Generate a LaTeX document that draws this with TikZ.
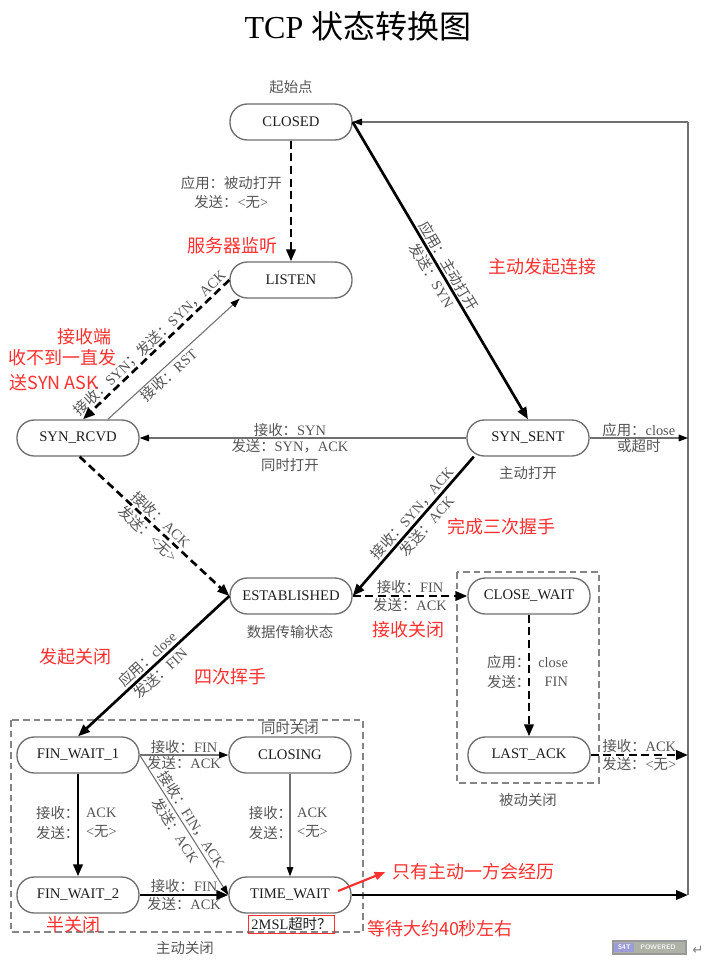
\documentclass[tikz,border=0pt]{standalone}
\usepackage{fontspec}
\setmainfont{Liberation Serif}
\newfontfamily\zhfont{Noto Sans CJK SC}
\newfontfamily\symfont{DejaVu Sans}
\newcommand\zh[1]{{\zhfont #1}}
\usetikzlibrary{arrows.meta,calc}
\definecolor{nodeborder}{HTML}{6E6E6E}
\definecolor{nodetext}{HTML}{1E1E1E}
\definecolor{lbltext}{HTML}{555555}
\definecolor{linegrey}{HTML}{707070}
\definecolor{boxgrey}{HTML}{858585}
\definecolor{notered}{HTML}{FF3030}
\definecolor{lavender}{HTML}{9C9CD8}
\definecolor{badgegrey}{HTML}{AEB2A6}
\begin{document}
\begin{tikzpicture}[x=0.75pt,y=-0.75pt,
  state/.style={draw=nodeborder, line width=1pt, rounded corners=13pt,
    minimum width=91.5pt, minimum height=27pt, inner sep=0pt,
    text=nodetext, font=\fontsize{11}{13}\selectfont},
  lbl/.style={text=lbltext, font=\fontsize{10.8}{14.5}\selectfont,
    inner sep=1pt, align=center},
  note/.style={text=notered, font=\zhfont\fontsize{13.5}{17}\selectfont,
    inner sep=0pt},
  strong/.style={line width=2pt, draw=black, -{Triangle[length=9pt,width=7pt]}},
  strongdash/.style={strong, dash pattern=on 6pt off 3.5pt},
  weak/.style={line width=0.8pt, draw=linegrey,
    -{Triangle[length=7pt,width=5pt,color=black]}},
  plainline/.style={line width=1.1pt, draw=linegrey},
  groupbox/.style={draw=boxgrey, line width=1pt, dash pattern=on 5pt off 3pt},
  redarrow/.style={line width=1.6pt, draw=notered,
    -{Triangle[length=8pt,width=6pt,color=notered]}},
  leftcol/.style={lbl, anchor=east, inner sep=0pt, align=right},
  rightcol/.style={lbl, anchor=west, inner sep=0pt, align=left},
]
\useasboundingbox (0,0) rectangle (715,970);

% title
\node (title) at (358,26) {\fontsize{24}{28}\selectfont TCP \zh{状态转换图}};

% group boxes
\draw[groupbox] (11,720) rectangle (363,932);
\draw[groupbox] (457,572) rectangle (599,783);

% states
\node[state] (CLOSED) at (291,122) {CLOSED};
\node[state] (LISTEN) at (291,280) {LISTEN};
\node[state] (SYNRCVD) at (78,438) {SYN\_RCVD};
\node[state] (SYNSENT) at (528,438) {SYN\_SENT};
\node[state] (EST) at (291,596) {ESTABLISHED};
\node[state] (CLOSEWAIT) at (529,596) {CLOSE\_WAIT};
\node[state] (LASTACK) at (529,755) {LAST\_ACK};
\node[state] (FW1) at (78,755) {FIN\_WAIT\_1};
\node[state] (CLOSING) at (290,755) {CLOSING};
\node[state] (FW2) at (78,895) {FIN\_WAIT\_2};
\node[state] (TW) at (290,895) {TIME\_WAIT};

% state captions
\node[lbl] (cap-start) at (291,87) {\zh{起始点}};
\node[lbl] (cap-active-open) at (528,473) {\zh{主动打开}};
\node[lbl] (cap-data) at (290,632) {\zh{数据传输状态}};
\node[lbl] (cap-simclose) at (290,728) {\zh{同时关闭}};
\node[lbl] (cap-activeclose) at (185,948) {\zh{主动关闭}};
\node[lbl] (cap-passiveclose) at (528,800) {\zh{被动关闭}};
\node[draw=notered, line width=0.6pt, minimum width=65pt, minimum height=13.5pt,
  inner sep=0pt, text=nodetext, font=\fontsize{10.8}{12}\selectfont]
  (msl) at (291.5,924) {2MSL\zh{超时？}};

% right return line
\coordinate (rtop) at (688,122);
\draw[plainline] (TW.east -| rtop) -- (rtop);
\draw[weak] (rtop) -- (CLOSED.east);

% connectors
\draw[strongdash] (CLOSED) -- (LISTEN)
  node[lbl, pos=0.43, left=5pt] {\zh{应用：被动打开}\\\zh{发送：}<\zh{无}>};
\draw[strong] (CLOSED.east) -- (SYNSENT.north)
  node[lbl, midway, sloped] {\zh{应用：主动打开}\\\zh{发送：}SYN};
\draw[strongdash] (LISTEN.west) -- (SYNRCVD.75)
  node[lbl, midway, sloped, above, inner sep=0.5pt] {\zh{接收：}SYN\zh{；发送：}SYN\zh{，}ACK};
\draw[weak] (SYNRCVD.32) -- (LISTEN.200)
  node[lbl, pos=0.42, sloped, below] {\zh{接收：}RST};
\draw[weak] (SYNSENT) -- (SYNRCVD)
  node[lbl, pos=0.54, above, inner sep=0.5pt] {\zh{接收：}SYN}
  node[lbl, pos=0.54, below, inner sep=0.5pt] {\zh{发送：}SYN\zh{，}ACK\\\zh{同时打开}};
\draw[weak] (SYNSENT) -- (SYNSENT -| rtop)
  node[lbl, midway, above, inner sep=0.5pt] {\zh{应用：}close}
  node[lbl, midway, below, inner sep=0.5pt] {\zh{或超时}};
\draw[strongdash] (SYNRCVD.-85) -- (EST.west)
  node[lbl, midway, sloped] {\zh{接收：}ACK\\\zh{发送：}<\zh{无}>};
\draw[strong] (SYNSENT.199) -- (EST.east)
  node[lbl, pos=0.45, sloped] {\zh{接收：}SYN\zh{，}ACK\\\zh{发送：}ACK};
\draw[strongdash] (EST) -- (CLOSEWAIT)
  node[lbl, midway, above, inner sep=0.5pt] {\zh{接收：}FIN}
  node[lbl, midway, below, inner sep=0.5pt] {\zh{发送：}ACK};
\draw[strongdash] (CLOSEWAIT) -- (LASTACK)
  node[leftcol, pos=0.47, xshift=2pt] {\zh{应用：}\\\zh{发送：}}
  node[rightcol, pos=0.47, xshift=6pt, align=right] {close\\FIN};
\draw[strongdash] (LASTACK) -- (LASTACK -| rtop)
  node[lbl, midway, above, inner sep=0.5pt] {\zh{接收：}ACK}
  node[lbl, midway, below, inner sep=0.5pt] {\zh{发送：}<\zh{无}>};
\draw[strong] (EST.west) -- (FW1.north)
  node[lbl, midway, sloped] {\zh{应用：}close\\\zh{发送：}FIN};
\draw[weak] (FW1) -- (CLOSING)
  node[lbl, midway, above, inner sep=0.5pt] {\zh{接收：}FIN}
  node[lbl, midway, below, inner sep=0.5pt] {\zh{发送：}ACK};
\draw[strong] (FW1) -- (FW2)
  node[leftcol, pos=0.48, xshift=2pt] {\zh{接收：}\\\zh{发送：}}
  node[rightcol, pos=0.48, xshift=5pt] {ACK\\<\zh{无}>};
\draw[weak] (FW1.east) -- (TW.west)
  node[lbl, midway, sloped] {\zh{接收：}FIN\zh{，}ACK\\\zh{发送：}ACK};
\draw[weak] (CLOSING) -- (TW)
  node[leftcol, pos=0.48, xshift=2pt] {\zh{接收：}\\\zh{发送：}}
  node[rightcol, pos=0.48, xshift=5pt] {ACK\\<\zh{无}>};
\draw[strong] (FW2) -- (TW)
  node[lbl, midway, above, inner sep=0.5pt] {\zh{接收：}FIN}
  node[lbl, midway, below, inner sep=0.5pt] {\zh{发送：}ACK};
\draw[strong] (TW) -- (TW -| rtop);

% red notes
\node[note] (n-listen) at (232,246) {服务器监听};
\node[note] (n-connect) at (542,267) {主动发起连接};
\node[note] (n-recv1) at (84,337) {接收端};
\node[note] (n-recv2) at (62,358) {收不到一直发};
\node[note] (n-recv3) at (54,383) {送SYN ASK};
\node[note] (n-three) at (501,527) {完成三次握手};
\node[note] (n-recvclose) at (408,630) {接收关闭};
\node[note] (n-startclose) at (75,657) {发起关闭};
\node[note] (n-four) at (230,677) {四次挥手};
\node[note] (n-half) at (73,925) {半关闭};
\node[note, anchor=west] (n-only) at (392,872) {只有主动一方会经历};
\node[note] (n-wait) at (440,929) {等待大约40秒左右};
\draw[redarrow] ($(TW.center)+(48,-4)$) -- ([xshift=-5pt]n-only.west);

% badge
\node[draw=gray!80, line width=0.8pt, fill=badgegrey, minimum width=54.75pt,
  minimum height=9.75pt, inner sep=0pt] (badge) at (649.5,947.5) {};
\node[fill=lavender, minimum width=15pt, minimum height=7pt, inner sep=0pt,
  anchor=west, text=white, font=\sffamily\bfseries\fontsize{5}{5}\selectfont]
  (s4t) at ([xshift=1.3pt]badge.west) {S4T};
\node[anchor=west, inner sep=0pt, text=white!92!gray,
  font=\sffamily\bfseries\fontsize{5}{5}\selectfont]
  (powered) at ([xshift=4pt]s4t.east) {POWERED};
\node[text=gray, font=\symfont\fontsize{10}{10}\selectfont] (ret) at (698,950) {↵};
\end{tikzpicture}
\end{document}
